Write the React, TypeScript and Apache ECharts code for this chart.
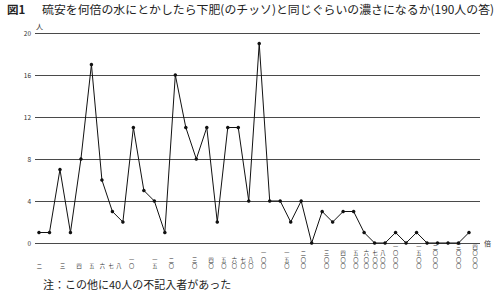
import React, { useEffect, useRef } from "react";
import * as echarts from "echarts";

// number of respondents for each answer bin (left → right)
const counts = [1, 1, 7, 1, 8, 17, 6, 3, 2, 11, 5, 4, 1, 16, 11, 8, 11, 2, 11, 11, 4, 19, 4, 4, 2, 4, 0, 3, 2, 3, 3, 1, 0, 0, 1, 0, 1, 0, 0, 0, 0, 1];
// dilution factors shown under the axis (log scale)
const tickValues = [2, 3, 4, 5, 6, 7, 8, 10, 15, 20, 30, 40, 50, 60, 70, 80, 100, 150, 200, 300, 400, 500, 600, 700, 800, 1000, 1500, 2000, 3000, 4000];
const tickLabels = ["二", "三", "四", "五", "六", "七", "八", "一〇", "一五", "二〇", "三〇", "四〇", "五〇", "六〇", "七〇", "八〇", "一〇〇", "一五〇", "二〇〇", "三〇〇", "四〇〇", "五〇〇", "六〇〇", "七〇〇", "八〇〇", "一〇〇〇", "一五〇〇", "二〇〇〇", "三〇〇〇", "四〇〇〇"];
const titleLead = "図1";
const titleText = "硫安を何倍の水にとかしたら下肥(のチッソ)と同じぐらいの濃さになるか(190人の答)";
const noteText = "注：この他に40人の不記入者があった";

const FONT = "'Noto Sans CJK JP', 'Noto Sans', sans-serif";

export default function App() {
  const ref = useRef<HTMLDivElement>(null);
  useEffect(() => {
    if (!ref.current) return;
    const chart = echarts.init(ref.current, null, { renderer: "svg" });
    const option: any = {
      animation: false,
      backgroundColor: "#ffffff",
      textStyle: { fontFamily: FONT },
      grid: { left: 35, right: 23, top: 33, bottom: 49 },
      xAxis: [
        {
          type: "value",
          min: -0.38,
          max: 42.05,
          show: false,
        },
        {
          type: "log",
          logBase: 10,
          position: "bottom",
          min: 1.855,
          max: 4363,
          axisLine: { show: false },
          axisTick: { show: false },
          axisLabel: { show: false },
          splitLine: { show: false },
          name: "倍",
          nameLocation: "end",
          nameGap: 4,
          nameTextStyle: { fontSize: 7, color: "#333", fontFamily: FONT },
        },
      ],
      yAxis: {
        type: "value",
        min: 0,
        max: 20,
        interval: 4,
        axisLine: { show: false },
        axisTick: { show: false },
        axisLabel: { fontSize: 6.5, color: "#333", margin: 4, fontFamily: FONT },
        splitLine: { lineStyle: { color: "#4a4a4a", width: 1 } },
        name: "人",
        nameLocation: "end",
        nameGap: 2,
        nameTextStyle: { fontSize: 7, color: "#333", fontFamily: FONT, align: "left", padding: [0, 0, 0, -3] },
      },
      series: [
        {
          type: "line",
          xAxisIndex: 0,
          data: counts.map((v, i) => [i, v]),
          symbol: "circle",
          symbolSize: 3.5,
          lineStyle: { color: "#111", width: 1 },
          itemStyle: { color: "#111" },
          clip: false,
        },
        {
          type: "custom",
          xAxisIndex: 1,
          yAxisIndex: 0,
          clip: false,
          silent: true,
          data: tickValues.map((v) => [v, 0]),
          renderItem: (params: any, api: any) => {
            const p = api.coord([api.value(0), api.value(1)]);
            return {
              type: "text",
              x: p[0],
              y: p[1] + 25.5,
              style: {
                text: tickLabels[params.dataIndex].split("").join("\n"),
                align: "center",
                verticalAlign: "bottom",
                fontSize: 5.2,
                lineHeight: 6.25,
                fill: "#333",
                fontFamily: FONT,
              },
            };
          },
        },
      ],
      graphic: [
        {
          type: "text",
          left: 7,
          top: 3,
          style: { text: titleLead, fontSize: 11.5, fontWeight: "bold", fill: "#222", fontFamily: FONT },
        },
        {
          type: "text",
          left: 42,
          top: 3,
          style: { text: titleText, fontSize: 11.9, fill: "#222", fontFamily: FONT },
        },
        {
          type: "text",
          left: 43,
          top: 278,
          style: { text: noteText, fontSize: 11, fill: "#222", fontFamily: FONT },
        },
      ],
    };
    chart.setOption(option);
    return () => chart.dispose();
  }, []);
  return (
    <div
      ref={ref}
      style={{ position: "fixed", left: 0, top: 0, width: 503, height: 292, background: "#fff" }}
    />
  );
}
